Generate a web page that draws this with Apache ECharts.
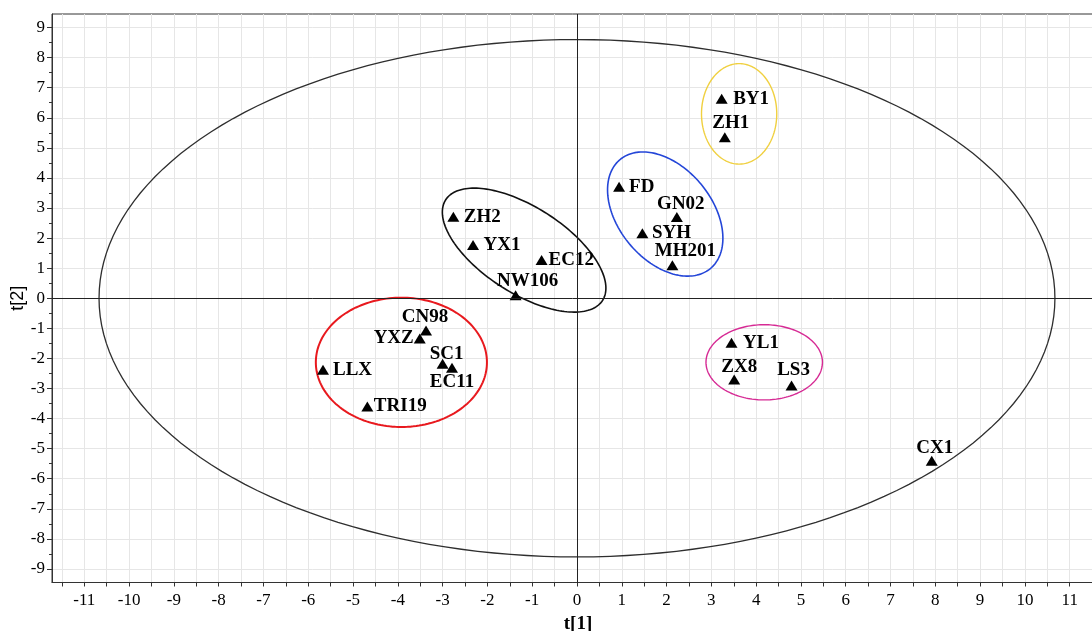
<!DOCTYPE html>
<html>
<head>
<meta charset="utf-8">
<script src="https://cdn.jsdelivr.net/npm/echarts@6/dist/echarts.min.js"></script>
<style>
html,body{margin:0;padding:0;background:#fff;}
#chart{width:1092px;height:631px;}
</style>
</head>
<body>
<div id="chart"></div>
<script>
// ---- data ----
const categories = ['BY1','ZH1','FD','GN02','SYH','MH201','ZH2','YX1','EC12','NW106','CN98','YXZ','SC1','EC11','LLX','TRI19','YL1','ZX8','LS3','CX1'];
const t1 = [3.23, 3.30, 0.94, 2.23, 1.46, 2.13, -2.76, -2.32, -0.79, -1.37, -3.37, -3.51, -3.00, -2.79, -5.67, -4.68, 3.45, 3.51, 4.79, 7.92];
const t2 = [6.63, 5.35, 3.71, 2.70, 2.16, 1.10, 2.71, 1.77, 1.27, 0.10, -1.07, -1.34, -2.18, -2.31, -2.38, -3.60, -1.48, -2.70, -2.90, -5.40];
// ellipses: [centre t1, centre t2, semi-axis (t1 units), semi-axis (t2 units), tilt deg]
const ellipseGeom = [
  [0, 0, 10.67, 8.6, 0],
  [3.62, 6.13, 0.84, 1.67, 0],
  [1.97, 2.80, 1.58, 1.55, 50.4],
  [-1.18, 1.60, 2.08, 1.43, 32.7],
  [-3.92, -2.13, 1.91, 2.15, 0],
  [4.18, -2.13, 1.30, 1.25, 0]
];
const xTickLabels = [-11,-10,-9,-8,-7,-6,-5,-4,-3,-2,-1,0,1,2,3,4,5,6,7,8,9,10,11];
const yTickLabels = [-9,-8,-7,-6,-5,-4,-3,-2,-1,0,1,2,3,4,5,6,7,8,9];

// ---- styles ----
const ellipseColors = ['#2e2e2e', '#f0d040', '#2446d8', '#111111', '#e8191e', '#d62a94'];
const ellipseWidths = [1.3, 1.4, 1.6, 1.6, 2, 1.4];
const labelPlace = {
  BY1:{pos:'right', d:5.5}, ZH1:{off:[6,-14]}, FD:{pos:'right', d:4}, GN02:{off:[4,-13]},
  SYH:{pos:'right', d:3.5}, MH201:{off:[13,-14]}, ZH2:{pos:'right', d:4.5}, YX1:{pos:'right', d:4.5},
  EC12:{pos:'right', d:1}, NW106:{off:[12,-14]}, CN98:{off:[-1,-13]}, YXZ:{pos:'left', d:0},
  SC1:{off:[4,-10]}, EC11:{off:[0,14]}, LLX:{pos:'right', d:4}, TRI19:{pos:'right', d:0.5},
  YL1:{pos:'right', d:5.5}, ZX8:{off:[5,-12]}, LS3:{off:[2,-15]}, CX1:{off:[3,-13]}
};

const xTicks = [];
xTickLabels.forEach(v => { xTicks.push(v - 0.5, v); });
xTicks.push(xTickLabels[xTickLabels.length - 1] + 0.5);
const yMinor = [];
yTickLabels.forEach(v => { yMinor.push(v - 0.5); });
yMinor.push(yTickLabels[yTickLabels.length - 1] + 0.5);

const points = categories.map((n, i) => {
  const p = labelPlace[n];
  const label = p.off
    ? {position: 'inside', offset: p.off, align: 'center', verticalAlign: 'middle'}
    : {position: p.pos, distance: p.d};
  return {name: n, value: [t1[i], t2[i]], label: label};
});

const serif = '"Liberation Serif", "Times New Roman", serif';
const chart = echarts.init(document.getElementById('chart'), null, {renderer: 'canvas'});
chart.setOption({
  animation: false,
  backgroundColor: '#fff',
  grid: {left: 52, top: 14, right: -1, bottom: 48.5, containLabel: false, outerBoundsMode: 'none',
         show: true, borderColor: '#333', borderWidth: 1, backgroundColor: 'transparent'},
  xAxis: {
    type: 'value', min: -11.72, max: 11.52,
    axisLine: {show: true, onZero: false, lineStyle: {color: '#333', width: 1}},
    axisTick: {show: true, customValues: xTicks, length: 4, lineStyle: {color: '#333'}},
    axisLabel: {customValues: xTickLabels, margin: 10, fontFamily: serif, fontSize: 17, color: '#000'},
    splitLine: {show: true, lineStyle: {color: '#e6e6e6', width: 1}},
    name: 't[1]', nameLocation: 'middle', nameGap: 30,
    nameTextStyle: {fontFamily: serif, fontWeight: 'bold', fontSize: 19, color: '#000', padding: [0, 0, 0, 11]}
  },
  yAxis: [{
    type: 'value', min: -9.45, max: 9.45,
    axisLine: {show: true, onZero: false, lineStyle: {color: '#333', width: 1}},
    axisTick: {show: true, customValues: yTickLabels, length: 5, lineStyle: {color: '#333'}},
    axisLabel: {customValues: yTickLabels, margin: 7, fontFamily: serif, fontSize: 17, color: '#000'},
    splitLine: {show: true, lineStyle: {color: '#e6e6e6', width: 1}},
    name: 't[2]', nameLocation: 'middle', nameGap: 25, nameMoveOverlap: false,
    nameTextStyle: {fontFamily: '"Liberation Sans", Arial, sans-serif', fontSize: 18, color: '#000'}
  }, {
    type: 'value', min: -9.45, max: 9.45, position: 'left',
    axisLine: {show: false, onZero: false},
    axisTick: {show: true, customValues: yMinor, length: 3, lineStyle: {color: '#333'}},
    axisLabel: {show: false},
    splitLine: {show: false}
  }],
  series: [{
    type: 'custom',
    silent: true,
    z: 1,
    data: ellipseGeom,
    encode: {x: 0, y: 1},
    renderItem: function (params, api) {
      const c = api.coord([api.value(0), api.value(1)]);
      const rx = api.size([api.value(2), 0])[0];
      const ry = api.size([0, api.value(3)])[1];
      const th = api.value(4) * Math.PI / 180;
      const pts = [];
      const N = 180;
      for (let k = 0; k < N; k++) {
        const t = 2 * Math.PI * k / N;
        const ex = rx * Math.cos(t), ey = ry * Math.sin(t);
        pts.push([c[0] + ex * Math.cos(th) - ey * Math.sin(th), c[1] + ex * Math.sin(th) + ey * Math.cos(th)]);
      }
      return {
        type: 'polygon',
        shape: {points: pts},
        style: {fill: null, stroke: ellipseColors[params.dataIndex], lineWidth: ellipseWidths[params.dataIndex]}
      };
    }
  }, {
    type: 'scatter',
    z: 3,
    symbol: 'triangle',
    symbolSize: [12, 10],
    itemStyle: {color: '#000', opacity: 1},
    label: {show: true, formatter: '{b}', fontFamily: serif, fontWeight: 'bold', fontSize: 19, color: '#000'},
    emphasis: {disabled: true},
    data: points,
    markLine: {
      silent: true, symbol: 'none', animation: false,
      label: {show: false},
      lineStyle: {color: '#222', width: 1, type: 'solid'},
      data: [{xAxis: 0}, {yAxis: 0}]
    }
  }]
});
</script>
</body>
</html>
